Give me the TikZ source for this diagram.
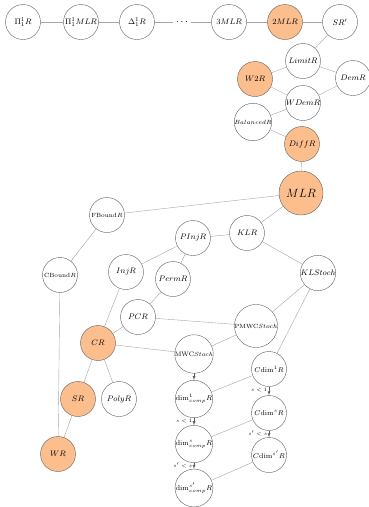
\documentclass[tikz,border=0pt]{standalone}
\usepackage{tikz}
\usetikzlibrary{arrows}

\definecolor{rorange}{RGB}{253,190,141}
\definecolor{rline}{RGB}{165,165,165}
\definecolor{rborder}{RGB}{95,95,95}

\begin{document}
\begin{tikzpicture}[x=1pt,y=-1pt,
  cls/.style={draw=rborder,circle,minimum size=35pt,inner sep=0pt,font=\footnotesize},
  hot/.style={cls,fill=rorange},
  big/.style={hot,minimum size=44pt,font=\large},
  small/.style={font=\fontsize{6}{7}\selectfont},
  dimf/.style={font=\scriptsize},
  edge/.style={draw=rline,thin},
  imp/.style={edge,-latex,draw=rborder},
  cond/.style={pos=0.4,anchor=east,font=\fontsize{5.5}{6}\selectfont,inner sep=1.5pt}]
  \useasboundingbox (0,0) rectangle (369,507);

  \node[cls] (Pi) at (23,22) {$\Pi^1_1R$};
  \node[cls] (PiMLR) at (81,22) {$\Pi^1_1MLR$};
  \node[cls] (Delta) at (137,22) {$\Delta^1_1R$};
  \node[inner sep=3pt] (dots) at (182,22) {$\cdots$};
  \node[cls] (ThreeMLR) at (229,22) {$3MLR$};
  \node[hot] (TwoMLR) at (285,22) {$2MLR$};
  \node[cls] (SRp) at (340,22) {$SR'$};

  \node[cls] (LimitR) at (303,61) {$LimitR$};
  \node[hot] (WtwoR) at (255,79) {$W2R$};
  \node[cls] (DemR) at (353,78) {$DemR$};
  \node[cls] (WDemR) at (303,103) {$WDemR$};
  \node[cls,small] (BalancedR) at (253,122) {$BalancedR$};
  \node[hot] (DiffR) at (302,144) {$DiffR$};
  \node[big] (MLR) at (301,193) {$MLR$};

  \node[cls,small] (FBoundR) at (107,215) {FBound$R$};
  \node[cls] (PInjR) at (193,238) {$PInjR$};
  \node[cls] (KLR) at (247,233) {$KLR$};
  \node[cls,small] (CBoundR) at (60,275) {CBound$R$};
  \node[cls] (InjR) at (126,272) {$InjR$};
  \node[cls] (PermR) at (173,279) {$PermR$};
  \node[cls] (KLStoch) at (318,273) {$KLStoch$};
  \node[cls] (PCR) at (138,317) {$PCR$};
  \node[cls,small] (PMWCStoch) at (256,326) {PMWC$Stoch$};
  \node[hot] (CR) at (98,343) {$CR$};
  \node[cls,font=\fontsize{6.5}{7}\selectfont] (MWCStoch) at (194,354) {MWC$Stoch$};
  \node[hot] (SR) at (78,399) {$SR$};
  \node[cls] (PolyR) at (119,399) {$PolyR$};
  \node[hot] (WR) at (58,454) {$WR$};

  \node[cls,dimf] (CdimOne) at (269,369) {$C\mathrm{dim}^1R$};
  \node[cls,dimf] (CdimS) at (269,413) {$C\mathrm{dim}^sR$};
  \node[cls,dimf] (CdimSp) at (269,455) {$C\mathrm{dim}^{s'}R$};
  \node[cls,dimf] (dimOne) at (194,399) {$\mathrm{dim}^1_{comp}R$};
  \node[cls,dimf] (dimS) at (194,444) {$\mathrm{dim}^s_{comp}R$};
  \node[cls,dimf] (dimSp) at (194,488) {$\mathrm{dim}^{s'}_{comp}R$};

  \draw[edge] (Pi) -- (PiMLR);
  \draw[edge] (PiMLR) -- (Delta);
  \draw[edge] (Delta) -- (dots);
  \draw[edge] (dots) -- (ThreeMLR);
  \draw[edge] (ThreeMLR) -- (TwoMLR);
  \draw[edge] (TwoMLR) -- (SRp);
  \draw[edge] (SRp) -- (LimitR);
  \draw[edge] (LimitR) -- (WtwoR);
  \draw[edge] (LimitR) -- (DemR);
  \draw[edge] (WtwoR) -- (WDemR);
  \draw[edge] (DemR) -- (WDemR);
  \draw[edge] (WDemR) -- (BalancedR);
  \draw[edge] (BalancedR) -- (DiffR);
  \draw[edge] (DiffR) -- (MLR);
  \draw[edge] (MLR) -- (FBoundR);
  \draw[edge] (MLR) -- (KLR);
  \draw[edge] (KLR) -- (PInjR);
  \draw[edge] (KLR) -- (KLStoch);
  \draw[edge] (FBoundR) -- (CBoundR);
  \draw[edge] (PInjR) -- (InjR);
  \draw[edge] (PInjR) -- (PermR);
  \draw[edge] (PermR) -- (PCR);
  \draw[edge] (InjR) -- (CR);
  \draw[edge] (PCR) -- (CR);
  \draw[edge] (PCR) -- (PMWCStoch);
  \draw[edge] (PMWCStoch) -- (KLStoch);
  \draw[edge] (PMWCStoch) -- (MWCStoch);
  \draw[edge] (CR) -- (MWCStoch);
  \draw[edge] (KLStoch) -- (CdimOne);
  \draw[edge] (CBoundR) -- (WR);
  \draw[edge] (CR) -- (SR);
  \draw[edge] (CR) -- (PolyR);
  \draw[edge] (SR) -- (WR);
  \draw[edge] (dimOne) -- (CdimOne);
  \draw[edge] (dimS) -- (CdimS);
  \draw[edge] (dimSp) -- (CdimSp);

  \draw[imp] (MWCStoch) -- (dimOne);
  \draw[imp] (dimOne) -- (dimS) node[cond] {$s<1$};
  \draw[imp] (dimS) -- (dimSp) node[cond] {$s'<s$};
  \draw[imp] (CdimOne) -- (CdimS) node[cond] {$s<1$};
  \draw[imp] (CdimS) -- (CdimSp) node[cond] {$s'<s$};
\end{tikzpicture}
\end{document}
